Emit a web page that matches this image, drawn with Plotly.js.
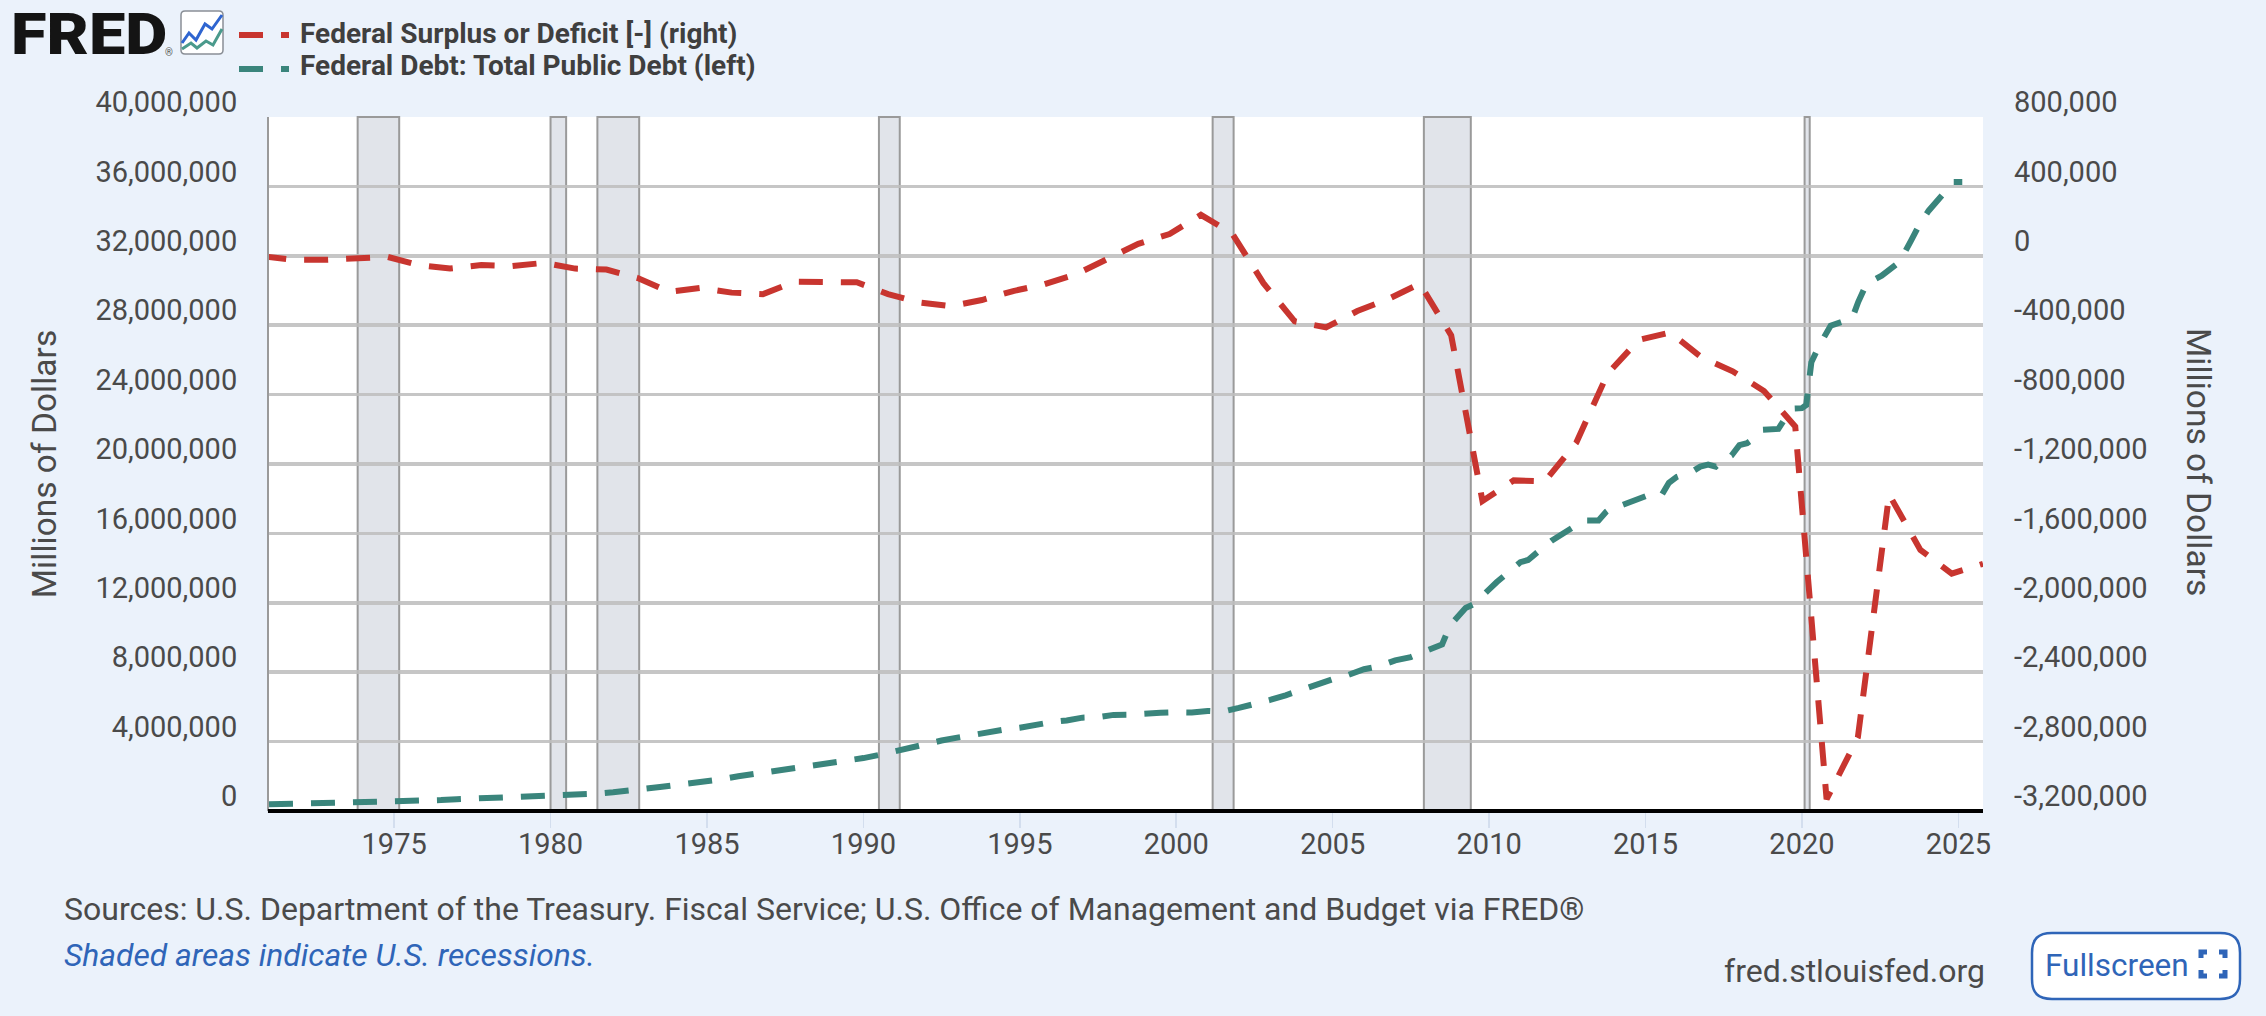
<!DOCTYPE html>
<html><head><meta charset="utf-8">
<script src="https://cdn.plot.ly/plotly-3.0.0.min.js"></script>
<style>html,body{margin:0;padding:0;background:#ebf2fb}#wrap{position:relative;width:2266px;height:1016px;overflow:hidden}#chart{width:2266px;height:1016px}
#logo{position:absolute;left:11px;top:0;height:68px;line-height:68px;font-family:Roboto,sans-serif;font-weight:900;font-size:58px;color:#141414;transform-origin:left center;transform:scaleX(1.12);pointer-events:none}</style>
</head><body><div id="wrap"><div id="chart"></div><div id="logo">FRED</div></div>
<script>
const surplusName = "Federal Surplus or Deficit [-] (right)";
const debtName = "Federal Debt: Total Public Debt (left)";
const surplusDates = ["1970-10-15","1971-10-15","1972-10-15","1973-10-15","1974-10-15","1975-10-15","1976-10-15","1977-10-15","1978-10-15","1979-10-15","1980-10-15","1981-10-15","1982-10-15","1983-10-15","1984-10-15","1985-10-15","1986-10-15","1987-10-15","1988-10-15","1989-10-15","1990-10-15","1991-10-15","1992-10-15","1993-10-15","1994-10-15","1995-10-15","1996-10-15","1997-10-15","1998-10-15","1999-10-15","2000-10-15","2001-10-15","2002-10-15","2003-10-15","2004-10-15","2005-10-15","2006-10-15","2007-10-15","2008-10-15","2009-10-15","2010-10-15","2011-10-15","2012-10-15","2013-10-15","2014-10-15","2015-10-15","2016-10-15","2017-10-15","2018-10-15","2019-10-15","2020-10-15","2021-10-15","2022-10-15","2023-10-15","2024-10-15","2025-10-15"];
const surplusValues = [-3000,-23000,-23400,-15000,-6100,-53000,-73700,-53700,-59200,-40700,-73800,-79000,-128000,-207800,-185400,-212300,-221200,-149700,-155200,-152600,-221000,-269200,-290300,-255000,-203200,-164000,-107400,-21900,69300,125600,236200,128200,-157800,-377600,-412700,-318300,-248200,-160700,-458600,-1412700,-1294400,-1299600,-1076600,-679800,-484600,-442000,-584700,-665800,-779100,-983600,-3132400,-2775300,-1375900,-1695000,-1832000,-1775000];
const debtDates = ["1971-01-01","1971-07-01","1972-01-01","1972-07-01","1973-01-01","1973-07-01","1974-01-01","1974-07-01","1975-01-01","1975-07-01","1976-01-01","1976-07-01","1977-01-01","1977-07-01","1978-01-01","1978-07-01","1979-01-01","1979-07-01","1980-01-01","1980-07-01","1981-01-01","1981-07-01","1982-01-01","1982-07-01","1983-01-01","1983-07-01","1984-01-01","1984-07-01","1985-01-01","1985-07-01","1986-01-01","1986-07-01","1987-01-01","1987-07-01","1988-01-01","1988-07-01","1989-01-01","1989-07-01","1990-01-01","1990-07-01","1991-01-01","1991-07-01","1992-01-01","1992-07-01","1993-01-01","1993-07-01","1994-01-01","1994-07-01","1995-01-01","1995-07-01","1996-01-01","1996-07-01","1997-01-01","1997-07-01","1998-01-01","1998-07-01","1999-01-01","1999-07-01","2000-01-01","2000-07-01","2001-01-01","2001-07-01","2002-01-01","2002-07-01","2003-01-01","2003-07-01","2004-01-01","2004-07-01","2005-01-01","2005-07-01","2006-01-01","2006-07-01","2007-01-01","2007-07-01","2008-01-01","2008-07-01",
"2008-10-01","2009-01-01","2009-04-01","2009-07-01","2009-10-01","2010-01-01","2010-04-01","2010-07-01","2010-10-01","2011-01-01","2011-04-01","2011-07-01","2011-10-01","2012-01-01","2012-04-01","2012-07-01","2012-10-01","2013-01-01","2013-04-01","2013-07-01","2013-10-01","2014-01-01","2014-04-01","2014-07-01","2014-10-01","2015-01-01","2015-04-01","2015-07-01","2015-10-01","2016-01-01","2016-04-01","2016-07-01","2016-10-01","2017-01-01","2017-04-01","2017-07-01","2017-10-01","2018-01-01","2018-04-01","2018-07-01","2018-10-01","2019-01-01","2019-04-01","2019-07-01","2019-10-01",
"2020-01-01","2020-02-20","2020-04-20","2020-07-25","2020-12-01","2021-06-10","2021-08-10","2021-10-20","2022-01-25","2022-07-20","2023-02-15","2023-06-25","2023-10-10","2024-01-20","2024-07-25","2024-11-05","2025-02-15"];
const debtValues = [388000,408000,427000,436000,458000,468000,474000,486000,512000,552000,599000,630000,680000,710000,759000,790000,819000,840000,863000,910000,964000,1000000,1080000,1140000,1280000,1380000,1490000,1570000,1710000,1840000,2000000,2130000,2250000,2350000,2490000,2600000,2740000,2860000,3050000,3230000,3460000,3670000,3880000,4060000,4230000,4410000,4570000,4690000,4800000,4970000,5120000,5220000,5380000,5410000,5540000,5550000,5640000,5660000,5690000,5680000,5770000,5730000,5940000,6130000,6400000,6670000,7000000,7270000,7600000,7840000,8170000,8350000,8680000,8870000,9230000,9600000,
10700000,11240000,11700000,11910000,12300000,12770000,13200000,13560000,14030000,14340000,14470000,14790000,15220000,15580000,15860000,16070000,16430000,16740000,16740000,16740000,17260000,17600000,17630000,17820000,18010000,18140000,18150000,18150000,18920000,19260000,19430000,19570000,19850000,19970000,19850000,20240000,20490000,21090000,21200000,21520000,21970000,22030000,22020000,22720000,23200000,
23220000,23400000,25860000,26860000,27970000,28360000,28400000,29350000,30400000,30850000,31650000,32850000,33850000,34600000,35600000,36250000,36250000];
const recessionStarts = ["1973-11-01","1980-01-01","1981-07-01","1990-07-01","2001-03-01","2007-12-01","2020-02-01"];
const recessionEnds = ["1975-03-01","1980-07-01","1982-11-01","1991-03-01","2001-11-01","2009-06-01","2020-04-01"];
const xTickVals = ["1975-01-01","1980-01-01","1985-01-01","1990-01-01","1995-01-01","2000-01-01","2005-01-01","2010-01-01","2015-01-01","2020-01-01","2025-01-01"];
const xTickText = ["1975","1980","1985","1990","1995","2000","2005","2010","2015","2020","2025"];
const leftTickVals = [0,4000000,8000000,12000000,16000000,20000000,24000000,28000000,32000000,36000000,40000000];
const leftTickText = ["0","4,000,000","8,000,000","12,000,000","16,000,000","20,000,000","24,000,000","28,000,000","32,000,000","36,000,000","40,000,000"];
const rightTickVals = [-3200000,-2800000,-2400000,-2000000,-1600000,-1200000,-800000,-400000,0,400000,800000];
const rightTickText = ["-3,200,000","-2,800,000","-2,400,000","-2,000,000","-1,600,000","-1,200,000","-800,000","-400,000","0","400,000","800,000"];

const W=2266,H=1016,L=269,R=1983,T=117,B=811;
const RED='#c8352f', TEAL='#3a857c';
const px=x=>(x-L)/(R-L), py=y=>(B-y)/(B-T);
const path=(pts,close)=>'M'+pts.map(p=>px(p[0])+' '+py(p[1])).join(' L')+(close?' Z':'');
const rrect=(x0,y0,x1,y1,r)=>{const k=r*0.3;return 'M'+px(x0+r)+' '+py(y0)+' L'+px(x1-r)+' '+py(y0)+' C'+px(x1-k)+' '+py(y0)+' '+px(x1)+' '+py(y0+k)+' '+px(x1)+' '+py(y0+r)+' L'+px(x1)+' '+py(y1-r)+' C'+px(x1)+' '+py(y1-k)+' '+px(x1-k)+' '+py(y1)+' '+px(x1-r)+' '+py(y1)+' L'+px(x0+r)+' '+py(y1)+' C'+px(x0+k)+' '+py(y1)+' '+px(x0)+' '+py(y1-k)+' '+px(x0)+' '+py(y1-r)+' L'+px(x0)+' '+py(y0+r)+' C'+px(x0)+' '+py(y0+k)+' '+px(x0+k)+' '+py(y0)+' '+px(x0+r)+' '+py(y0)+' Z';};
const FONT='Roboto, sans-serif', TXT='#4a4a4a', BLUE='#2f65b8';

const shapes=recessionStarts.map((s,i)=>({type:'rect',xref:'x',yref:'paper',x0:s,x1:recessionEnds[i],y0:0,y1:1,layer:'below',fillcolor:'#e1e4ea',line:{color:'#9a9a9a',width:2}}));
shapes.push({type:'line',xref:'paper',yref:'paper',x0:-0.0006,x1:1,y0:0,y1:0,line:{color:'#000',width:4}});
shapes.push({type:'path',xref:'paper',yref:'paper',path:rrect(181,11,223,54,4),fillcolor:'#fff',line:{color:'#8a8f96',width:1.5}});
shapes.push({type:'path',xref:'paper',yref:'paper',path:path([[182,43],[189,33],[196,40],[205,24],[212,29],[222,15]]),line:{color:'#2f65d0',width:3}});
shapes.push({type:'path',xref:'paper',yref:'paper',path:path([[182,49],[191,43],[197,48],[206,41],[213,45],[222,29]]),line:{color:'#4a9a8c',width:3}});
shapes.push({type:'path',xref:'paper',yref:'paper',path:rrect(2032,933,2240,999,20),fillcolor:'#fff',line:{color:BLUE,width:2.5}});
[[2201,958,2201,952,2207,952],[2219,952,2225,952,2225,958],[2201,970,2201,976,2207,976],[2219,976,2225,976,2225,970]].forEach(c=>{
  shapes.push({type:'path',xref:'paper',yref:'paper',path:path([[c[0],c[1]],[c[2],c[3]],[c[4],c[5]]]),line:{color:BLUE,width:5}});
});
[[35,RED],[69,TEAL]].forEach(k=>{
  shapes.push({type:'line',xref:'paper',yref:'paper',x0:px(239),x1:px(289),y0:py(k[0]),y1:py(k[0]),line:{color:k[1],width:6,dash:'24px,18px,8px'}});
});

const ann=(text,x,y,size,opts)=>Object.assign({xref:'paper',yref:'paper',x:px(x),y:py(y),xanchor:'left',yanchor:'middle',showarrow:false,text,font:{family:FONT,size,color:TXT}},opts||{});
const legendFont={family:FONT,size:28,color:'#3f3f3f',weight:700};
const annotations=[
  ann('®',163,52,10,{font:{family:FONT,size:10,color:'#555'}}),
  ann(surplusName,298,33,28,{font:legendFont}),
  ann(debtName,298,66,28,{font:legendFont}),
  ann('Sources: U.S. Department of the Treasury. Fiscal Service; U.S. Office of Management and Budget via FRED®',62,909,32),
  ann('<i>Shaded areas indicate U.S. recessions.</i>',62,955,31.8,{font:{family:FONT,size:31.8,color:BLUE}}),
  ann('fred.stlouisfed.org',1987,971,32,{xanchor:'right'}),
  ann('Fullscreen',2043,965,31.5,{font:{family:FONT,size:31.5,color:BLUE}}),
  ann('Millions of Dollars',2198,462,33.5,{xanchor:'center',textangle:90})
];

const data=[
  {name:surplusName,x:surplusDates,y:surplusValues,yaxis:'y2',type:'scatter',mode:'lines',line:{color:RED,width:6,dash:'24px,18px'}},
  {name:debtName,x:debtDates,y:debtValues,yaxis:'y',type:'scatter',mode:'lines',line:{color:TEAL,width:6,dash:'24px,18px'}}
];
const layout={
  width:W,height:H,autosize:false,paper_bgcolor:'#ebf2fb',plot_bgcolor:'#fff',
  margin:{l:L,r:W-R,t:T,b:H-B,pad:0},font:{family:FONT,color:TXT,size:28},
  showlegend:false,
  xaxis:{type:'date',range:['1971-01-01','2025-10-15'],tickvals:xTickVals,ticktext:xTickText,showgrid:false,zeroline:false,showline:false,ticks:'outside',ticklen:16,tickwidth:1.5,tickcolor:'#d3deee',tickfont:{family:FONT,size:29,color:TXT},ticklabelstandoff:-9},
  yaxis:{range:[0,40000000],tickvals:leftTickVals,ticktext:leftTickText,showgrid:true,gridcolor:'rgba(190,190,190,0.88)',gridwidth:3.5,zeroline:false,showline:true,linecolor:'#9a9a9a',linewidth:2,ticks:'',tickfont:{family:FONT,size:29,color:TXT},ticklabelstandoff:24,ticklabelshift:-15,title:{text:'Millions of Dollars',font:{family:FONT,size:33.5,color:TXT},standoff:29}},
  yaxis2:{range:[-3200000,800000],overlaying:'y',side:'right',tickvals:rightTickVals,ticktext:rightTickText,showgrid:false,zeroline:false,showline:false,ticks:'',tickfont:{family:FONT,size:29,color:TXT},ticklabelstandoff:30,ticklabelshift:-15},
  shapes,annotations
};
Plotly.newPlot('chart',data,layout,{displayModeBar:false,responsive:false,staticPlot:true});
</script></body></html>
